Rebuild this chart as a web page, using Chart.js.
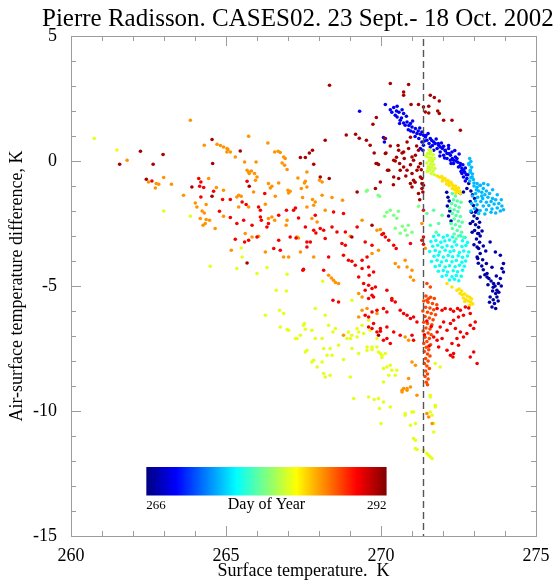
<!DOCTYPE html>
<html>
<head>
<meta charset="utf-8">
<title>Pierre Radisson. CASES02</title>
<script src="https://cdn.jsdelivr.net/npm/chart.js@4.4.1/dist/chart.umd.min.js"></script>
<style>
  html, body { margin: 0; padding: 0; background: #fff; }
  #wrap { width: 555px; height: 582px; }
</style>
</head>
<body>
<div id="wrap"><canvas id="chart" width="555" height="582"></canvas></div>
<script>
// colour bar range (day of year)
const dayMin = 266;
const dayMax = 292;
const xTicks = [260, 265, 270, 275];
const yTicks = [-15, -10, -5, 0, 5];
// sea-water freezing point, K
const freezingLine = 271.35;

// [surface temperature K, air-surface temperature difference K], grouped by day
const day267 = [
  [272.90,-1.20],[272.95,-1.35],[273.02,-1.50],[272.88,-1.62],[272.98,-1.78],[273.05,-1.92],[272.92,-2.05],
  [273.00,-2.20],[273.10,-2.30],[272.96,-2.42],[273.05,-2.55],[273.15,-2.65],[273.02,-2.78],[273.12,-2.90],
  [273.20,-3.00],[273.08,-3.12],[273.18,-3.25],[273.10,-3.44],[273.14,-4.09],[273.42,-4.64],[273.62,-5.05],
  [273.74,-5.44],[273.58,-5.84],[273.69,-3.64],[273.85,-3.77],[273.95,-4.44],[273.79,-4.90],[273.10,-1.97],
  [272.88,-2.50],[273.15,-2.90],[273.15,-3.50],[273.10,-3.84],[273.20,-4.64],[273.42,-4.50],[273.63,-4.90],
  [273.74,-5.17],[273.52,-5.44],[273.52,-3.24],[273.25,-4.20],[273.30,-4.35],[273.48,-4.70],[273.55,-4.80],
  [273.68,-5.00],[273.80,-5.25],[273.70,-5.30],[273.62,-5.55],[273.78,-5.60],[273.66,-5.70],[273.20,-3.70],
  [273.12,-3.90],[273.35,-4.55],[273.45,-4.95],[273.90,-4.30],[273.95,-4.10],[272.12,-1.25],[272.16,-1.45],
  [272.20,-1.60],[272.14,-1.80],[272.22,-2.00],[272.18,-2.20],[272.26,-2.40],[272.83,-0.90],[272.77,-1.10],
  [272.66,-1.24],[272.56,-1.30],[273.05,-2.05],[273.18,-2.45],[273.26,-2.80],[273.30,-3.40],[273.38,-3.60],
  [273.28,-3.95],[273.40,-4.10],[273.58,-4.25],[273.72,-4.60],[273.85,-4.70],[273.88,-5.00],[273.60,-5.20],
  [273.50,-5.65],[273.70,-5.90],[272.94,-2.85],[273.00,-3.35]
];
const day269 = [
  [270.14,2.26],[270.41,2.14],[270.52,2.19],[270.46,1.83],[270.52,1.76],[270.62,1.63],[270.73,1.52],[270.84,1.56],
  [270.78,1.43],[270.95,1.50],[271.00,1.36],[271.11,1.30],[271.05,1.16],[271.16,1.10],[271.27,1.07],[271.32,1.16],
  [271.37,1.03],[270.73,1.90],[270.82,1.79],[271.43,0.96],[271.48,0.83],[271.59,0.90],[271.70,0.76],[271.75,0.70],
  [271.86,0.63],[271.91,0.56],[272.02,0.59],[272.07,0.43],[272.18,0.50],[272.13,0.30],[272.24,0.23],[272.29,0.36],
  [272.40,0.16],[272.45,0.10],[272.34,0.03],[272.56,-0.10],[272.50,-0.24],[272.61,-0.30],[272.66,-0.37],[272.61,-0.50],
  [272.66,-0.64],[272.77,-0.70],[271.32,0.76],[271.37,0.63],[271.27,0.50],[271.35,0.43],[270.14,0.90],[270.11,0.76],
  [271.59,0.56],[271.70,0.43],[271.81,0.50],[271.91,0.36],[272.02,0.23],[272.13,0.10],[272.24,0.03],[272.34,-0.10],
  [269.31,1.99],[270.08,0.94],[270.30,2.05],[270.66,1.72],[270.90,1.42],[271.20,1.20],[271.45,1.02],[271.64,0.82],
  [271.98,0.50],[272.20,0.30],[272.42,0.00],[272.70,-0.45],[272.75,-0.55],[271.85,0.70],[272.08,0.40],[272.55,-0.20],
  [270.35,1.95],[270.58,1.95],[270.60,1.50],[270.88,1.25],[271.02,1.60],[271.25,1.32],[271.10,0.98],[271.40,0.80],
  [271.52,1.10],[271.66,0.62],[271.78,0.88],[271.95,0.72],[272.05,0.12],[272.18,0.62],[272.30,0.10],[272.38,0.42],
  [272.48,-0.05],[272.52,0.28],[272.64,-0.15],[272.72,-0.28],[272.58,-0.42],[272.80,-0.55],[272.72,-0.80],[271.22,0.90],
  [270.96,1.20],[270.50,2.00],[270.68,2.05],[271.55,0.70],[271.90,0.20],[272.26,-0.10]
];
const day274 = [
  [272.83,-0.10],[272.88,-0.37],[272.94,-0.64],[272.86,0.10],[272.90,-0.02],[272.84,-0.15],[272.92,-0.25],
  [272.88,-0.45],[272.95,-0.52],[272.90,-0.66],[272.98,-0.74],[272.86,-0.80],[273.00,-0.88],[273.10,-0.90],
  [273.20,-0.97],[273.31,-0.90],[273.00,-1.00],[273.10,-1.05],[273.20,-0.98],[273.30,-1.10],[273.15,-1.20],
  [273.25,-1.25],[273.40,-1.20],[273.50,-1.30],[273.35,-1.35],[273.05,-1.30],[272.95,-1.40],[273.12,-1.45],
  [273.28,-1.50],[273.45,-1.45],[273.60,-1.50],[273.70,-1.55],[273.55,-1.62],[273.40,-1.65],[273.22,-1.62],
  [273.05,-1.60],[272.92,-1.70],[273.10,-1.75],[273.30,-1.80],[273.48,-1.78],[273.65,-1.72],[273.80,-1.70],
  [273.90,-1.80],[273.75,-1.88],[273.58,-1.92],[273.40,-1.95],[273.20,-1.98],[273.02,-1.90],[272.90,-2.00],
  [273.15,-2.10],[273.35,-2.12],[273.55,-2.05],[273.85,-2.00],[273.95,-1.95],[273.70,-2.08],[273.45,-0.95],
  [273.60,-1.15],[273.75,-1.35],[273.88,-1.55],[273.25,-1.40],[273.08,-1.15]
];
const day276 = [
  [271.70,-3.02],[271.86,-2.96],[272.01,-3.05],[272.14,-2.98],[272.31,-3.04],[272.56,-2.99],[272.71,-3.06],
  [271.61,-3.22],[271.77,-3.18],[271.93,-3.25],[272.06,-3.20],[272.21,-3.16],[272.37,-3.23],[272.63,-3.19],
  [272.79,-3.26],[271.67,-3.41],[271.83,-3.37],[271.97,-3.45],[272.13,-3.39],[272.29,-3.43],[272.44,-3.36],
  [272.61,-3.42],[272.74,-3.38],[271.57,-3.62],[271.75,-3.58],[271.89,-3.64],[272.07,-3.57],[272.23,-3.63],
  [272.35,-3.59],[272.53,-3.66],[272.67,-3.60],[272.83,-3.64],[271.71,-3.81],[271.85,-3.77],[272.01,-3.84],
  [272.17,-3.78],[272.31,-3.83],[272.49,-3.79],[272.63,-3.85],[272.79,-3.80],[271.63,-4.02],[271.81,-3.97],
  [271.95,-4.04],[272.11,-3.99],[272.29,-4.03],[272.43,-3.98],[272.61,-4.05],[272.73,-4.00],[271.75,-4.22],
  [271.89,-4.18],[272.07,-4.24],[272.21,-4.19],[272.39,-4.23],[272.53,-4.17],[272.69,-4.21],[271.85,-4.41],
  [272.01,-4.38],[272.15,-4.44],[272.33,-4.39],[272.47,-4.43],[272.63,-4.37],[271.97,-4.62],[272.11,-4.57],
  [272.29,-4.63],[272.43,-4.58],[272.59,-4.61],[272.21,-4.76],[272.37,-4.73],[272.51,-4.79]
];
const day278 = [
  [272.30,-1.30],[272.40,-1.40],[272.34,-1.55],[272.46,-1.60],[272.28,-1.70],[272.40,-1.78],[272.52,-1.85],
  [272.36,-1.95],[272.48,-2.02],[272.30,-2.10],[272.42,-2.18],[272.56,-2.22],[272.36,-2.32],[272.50,-2.40],
  [272.62,-2.45],[272.40,-2.55],[272.54,-2.62],[272.30,-2.70],[272.46,-2.78],[272.60,-2.85],[272.36,-2.92],
  [272.50,-3.00],[272.66,-3.05],[272.42,-3.12],[272.26,-2.50],[272.22,-1.90],[272.58,-1.65],[271.48,-2.10],
  [271.70,-1.97],[271.86,-2.50],[271.97,-2.17],[271.59,-2.57],[271.78,-2.85]
];
const day279 = [
  [269.53,-1.21],[269.95,-1.41],[270.12,-2.21],[270.19,-2.05],[270.30,-1.97],[270.41,-2.17],[270.51,-2.29],
  [270.56,-2.01],[270.69,-2.61],[270.78,-2.77],[270.88,-2.57],[271.00,-2.85],[270.84,-2.97],[270.62,-2.89],
  [270.46,-2.69],[269.91,-1.37],[269.56,-1.17],[271.21,-1.81]
];
const day281 = [
  [271.55,0.45],[271.62,0.40],[271.50,0.30],[271.58,0.28],[271.68,0.25],[271.52,0.15],[271.62,0.12],[271.72,0.10],
  [271.56,0.02],[271.66,-0.02],[271.48,-0.08],[271.60,-0.12],[271.70,-0.15],[271.54,-0.22],[271.64,-0.26],
  [271.74,-0.30],[271.58,-0.36],[271.68,-0.40],[271.50,-0.42],[271.62,-0.50],[271.72,-0.55],[271.58,0.35],
  [271.66,0.05],[271.52,-0.30],[271.45,0.20]
];
const day282 = [
  [262.99,-2.00],[263.85,-2.21],[260.75,0.90],[265.49,-3.48],[265.52,-3.84],[265.35,-4.30],[266.32,-4.26],
  [266.00,-4.50],[264.49,-4.21],[266.97,-4.53],[266.62,-5.17],[266.95,-5.20],[266.27,-6.17],[266.73,-5.97],
  [266.86,-6.10],[266.75,-6.64],[266.97,-6.74],[267.29,-7.10],[267.53,-6.50],[267.77,-6.77],[267.61,-7.57],
  [267.77,-8.04],[268.10,-7.10],[268.36,-7.50],[268.15,-8.50],[268.36,-8.57],[268.20,-8.64],[267.94,-8.24],
  [268.79,-7.94],[269.01,-8.64],[269.12,-9.50],[269.60,-9.44],[269.78,-9.54],[269.95,-9.90],[270.00,-10.50],
  [270.30,-9.84],[270.78,-10.17],[271.05,-10.04],[270.95,-10.57],[271.11,-11.17],[271.16,-11.54],[271.48,-11.70],
  [271.59,-11.84],[271.70,-10.84],[271.75,-9.84],[271.59,-9.44],[269.98,-7.70],[270.03,-7.86],[270.19,-8.24],
  [270.35,-8.37],[270.46,-8.57],[270.25,-8.57],[270.08,-8.84],[269.55,-7.44],[269.71,-7.54],[269.01,-7.10],
  [269.23,-7.04],[269.44,-6.90],[269.65,-6.77],[269.39,-6.57],[269.60,-6.37],[269.06,-5.57],[268.45,-6.84],
  [268.53,-6.70],[268.15,-7.50],[268.26,-7.77],[268.12,-4.81],[267.88,-5.90],[268.20,-6.17],[268.31,-6.57],
  [267.50,-6.57],[267.56,-6.73],[267.02,-6.77],[268.95,-6.84],[269.06,-6.97],[268.90,-7.10],[269.23,-6.70],
  [269.28,-6.84],[267.88,-7.10],[267.40,-6.97],[267.24,-7.10],[267.56,-7.64],[267.83,-7.97],[268.10,-8.04],
  [268.42,-7.77],[268.63,-7.37],[269.06,-7.50],[269.28,-7.70],[269.55,-7.57],[269.71,-7.44],[269.87,-7.44],
  [269.92,-7.64],[270.03,-7.77],[269.87,-7.10],[270.14,-7.70],[270.30,-8.17],[270.08,-8.30],[270.51,-8.37],
  [269.92,-9.50],[270.08,-9.64],[270.78,-10.10],[271.00,-10.04],[271.11,-10.50],[271.05,-11.10],[271.37,-11.57],
  [271.54,-11.77],[271.65,-11.90],[271.59,-10.04],[271.65,-10.17],[271.70,-10.50],[271.59,-9.37],[271.75,-9.77],
  [271.11,-11.50],[271.75,-8.10],[271.91,-8.24],[261.48,0.44]
];
const day283 = [
  [271.82,-0.60],[271.90,-0.65],[271.96,-0.62],[272.00,-0.72],[272.06,-0.70],[272.10,-0.80],[272.16,-0.78],
  [272.20,-0.88],[272.26,-0.85],[272.30,-0.95],[272.34,-1.02],[272.40,-1.00],[272.44,-1.10],[272.50,-1.08],
  [272.38,-1.15],[272.46,-1.22],[272.54,-1.20],[272.30,-1.10],[272.20,-0.98],[272.12,-0.92],[271.98,-0.80],
  [272.56,-1.30],[272.42,-1.28],[272.55,-5.30],[272.62,-5.35],[272.70,-5.32],[272.78,-5.40],[272.86,-5.45],
  [272.92,-5.52],[272.66,-5.48],[272.74,-5.55],[272.82,-5.60],[272.90,-5.65],[272.96,-5.72],[272.60,-5.20],
  [272.52,-5.12],[272.70,-5.62],[272.86,-5.78],[272.13,-4.90],[272.29,-5.04],[272.45,-5.17]
];
const day285 = [
  [263.85,1.63],[261.81,0.03],[264.30,0.63],[264.71,0.67],[264.82,0.62],[264.92,0.56],[265.03,0.50],[265.03,0.36],
  [262.50,-0.84],[262.75,-0.90],[262.83,-0.93],[262.72,-1.08],[262.99,-0.66],[263.24,-0.93],[263.63,-1.37],
  [264.44,-0.70],[264.69,-1.06],[264.92,-1.17],[264.36,-1.74],[264.01,-1.68],[264.06,-1.84],[264.23,-2.00],
  [264.30,-2.08],[264.17,-2.30],[264.36,-2.34],[264.47,-2.37],[264.33,-2.50],[264.26,-2.57],[264.92,-2.21],
  [264.65,-2.70],[265.73,0.99],[266.35,0.72],[265.06,0.46],[265.14,0.36],[265.30,0.16],[266.57,0.36],
  [266.68,0.39],[266.75,0.34],[266.86,0.16],[266.91,0.10],[265.60,-0.04],[265.97,-0.04],[266.81,-0.08],
  [266.89,-0.17],[265.68,-0.37],[265.73,-0.44],[265.82,-0.40],[265.75,-0.50],[265.92,-0.50],[266.00,-0.64],
  [265.95,-0.77],[266.97,-0.34],[267.61,-0.44],[267.32,-0.68],[267.56,-0.81],[267.53,-0.88],[268.02,-0.77],
  [268.10,-0.84],[266.37,-0.90],[266.48,-1.01],[266.43,-1.08],[266.70,-0.88],[267.00,-1.17],[267.07,-1.21],
  [267.02,-1.28],[267.43,-1.10],[267.61,-1.04],[265.41,-1.37],[265.49,-1.41],[265.35,-1.44],[265.89,-1.24],
  [266.59,-1.41],[265.41,-1.84],[265.73,-1.84],[266.27,-1.73],[267.47,-1.46],[267.79,-1.54],[267.88,-1.64],
  [267.83,-1.77],[268.10,-1.37],[268.42,-1.46],[268.76,-1.57],[267.61,-1.84],[267.77,-2.30],[267.94,-2.44],
  [268.20,-1.97],[266.37,-2.30],[266.48,-2.24],[266.57,-2.37],[265.62,-2.90],[265.84,-3.04],[266.05,-3.01],
  [266.97,-2.37],[266.94,-2.57],[267.29,-3.04],[267.34,-3.08],[269.01,-3.01],[269.39,-2.37],[269.87,-2.77],
  [269.98,-2.74],[265.17,-3.57],[266.27,-3.64],[266.86,-3.84],[267.02,-3.84],[267.40,-3.64],[267.83,-3.84],
  [268.31,-4.57],[268.40,-4.68],[268.47,-4.77],[268.53,-4.86],[268.63,-4.90],[269.71,-3.70],[269.92,-3.57],
  [269.28,-5.30],[269.39,-5.44],[269.39,-5.97],[269.55,-5.90],[269.87,-6.10],[269.28,-6.24],[268.79,-6.97],
  [270.68,-9.17],[270.84,-9.10],[271.16,-9.37],[271.48,-10.10],[271.54,-10.24],[271.65,-10.50],[270.78,-7.04],
  [270.89,-7.17],[271.00,-8.04],[271.11,-8.17],[270.89,-8.70],[270.73,-9.10],[270.68,-9.24],[270.84,-9.17],
  [270.95,-9.04],[270.46,-4.10],[270.57,-4.24],[270.78,-3.97],[270.84,-4.24],[271.00,-4.37],[270.95,-4.64],
  [271.05,-4.77],[271.32,-2.50],[271.43,-3.49]
];
const day287 = [
  [271.45,-5.40],[271.60,-5.45],[271.72,-5.50],[271.38,-5.60],[271.52,-5.65],[271.66,-5.70],[271.80,-5.75],
  [271.44,-5.85],[271.58,-5.88],[271.70,-5.95],[271.35,-6.00],[271.50,-6.05],[271.62,-6.10],[271.76,-6.15],
  [271.42,-6.22],[271.56,-6.28],[271.68,-6.35],[271.38,-6.45],[271.50,-6.50],[271.64,-6.55],[271.45,-6.68],
  [271.58,-6.72],[271.36,-6.80],[271.52,-6.88],[271.62,-6.95],[271.42,-7.05],[271.56,-7.10],[271.48,-7.22],
  [271.38,-7.30],[271.60,-7.35],[271.46,-7.45],[271.54,-7.55],[271.40,-7.62],[271.50,-7.72],[271.58,-7.80],
  [271.44,-7.90],[271.52,-8.00],[271.40,-8.10],[271.48,-8.20],[271.56,-8.30],[271.44,-8.40],[271.50,-8.52],
  [271.42,-8.62],[271.52,-8.72],[271.46,-8.85],[271.50,-8.95],[271.48,-4.90],[271.59,-5.04],[271.54,-5.50],
  [271.48,-5.57]
];
const day289 = [
  [262.61,-0.80],[264.12,-0.70],[264.19,-0.84],[264.15,-1.01],[264.28,-1.06],[264.60,-1.21],[264.19,-1.44],
  [264.89,-1.54],[264.79,-2.01],[265.68,-0.81],[266.25,-1.30],[265.14,-1.54],[265.52,-1.64],[265.65,-1.74],
  [266.05,-1.84],[266.11,-1.97],[266.95,-1.97],[267.24,-1.88],[267.18,-1.97],[267.34,-2.28],[268.47,-2.04],
  [268.79,-2.10],[267.88,-2.17],[266.70,-2.17],[266.11,-2.24],[266.14,-2.37],[265.57,-2.37],[265.84,-2.57],
  [265.14,-2.26],[265.35,-2.50],[266.37,-2.50],[266.32,-2.64],[267.56,-2.64],[267.83,-2.77],[267.90,-2.88],
  [268.04,-2.70],[268.15,-2.77],[268.42,-2.64],[268.58,-2.84],[268.85,-2.84],[269.23,-2.64],[270.03,-2.94],
  [265.30,-3.13],[265.60,-3.24],[265.73,-3.17],[266.00,-3.04],[266.54,-3.50],[266.70,-3.17],[266.75,-3.57],
  [267.07,-3.04],[267.26,-3.08],[267.50,-4.33],[267.61,-3.44],[267.61,-3.24],[267.72,-3.24],[268.20,-3.10],
  [268.31,-3.84],[268.15,-4.37],[268.74,-3.30],[268.85,-3.37],[268.79,-3.77],[268.95,-3.97],[269.06,-4.01],
  [269.17,-4.17],[269.28,-4.64],[269.39,-4.30],[269.60,-4.24],[269.76,-4.44],[269.62,-4.57],[269.39,-3.97],
  [269.55,-3.84],[269.49,-3.24],[269.71,-3.37],[269.44,-4.90],[269.60,-4.97],[269.71,-5.10],[269.82,-5.04],
  [269.49,-5.17],[269.71,-5.37],[269.76,-5.44],[269.60,-5.50],[268.45,-5.57],[268.63,-5.64],[269.49,-6.17],
  [269.60,-6.24],[269.71,-6.04],[269.60,-6.64],[269.71,-6.70],[267.48,-4.37],[270.35,-5.57],[270.46,-5.64],
  [269.87,-5.97],[270.08,-5.90],[270.19,-6.04],[270.62,-5.97],[270.73,-6.10],[270.84,-6.17],[270.95,-6.30],
  [271.05,-6.24],[271.16,-6.44],[269.76,-6.50],[269.98,-6.70],[269.87,-6.84],[270.19,-6.64],[270.41,-6.84],
  [270.62,-6.97],[271.00,-6.97],[271.05,-7.17],[270.08,-7.17],[270.19,-7.10],[270.30,-7.30],[269.98,-6.81],
  [271.81,-5.90],[271.97,-5.97],[272.07,-5.90],[272.24,-5.93],[272.34,-6.01],[272.47,-5.90],[272.56,-5.97],
  [272.72,-5.84],[272.83,-5.88],[272.88,-6.10],[272.66,-6.17],[272.50,-6.24],[272.34,-6.37],[272.24,-6.50],
  [272.02,-6.44],[271.91,-6.64],[271.81,-6.84],[272.13,-6.77],[272.40,-6.70],[272.56,-6.84],[272.66,-7.04],
  [272.77,-6.90],[272.88,-6.57],[273.04,-6.44],[272.99,-6.70],[272.45,-7.10],[272.29,-7.30],[272.50,-7.37],
  [272.34,-7.70],[272.24,-7.77],[272.32,-7.84],[272.88,-7.84],[273.10,-8.10],[272.99,-7.64],[272.13,-7.57],
  [271.97,-7.10],[271.81,-7.17],[271.70,-7.04],[271.86,-7.44],[271.48,-6.40],[271.62,-6.62],[271.40,-6.95],
  [271.55,-7.40],[271.37,-1.97],[271.37,-3.04],[271.32,-3.17],[271.37,-3.33],[270.19,-5.17],[270.35,-5.50],
  [270.08,-2.90],[270.14,-3.04],[270.25,-3.17],[270.41,-3.37],[270.49,-3.50],[270.95,-3.30]
];
const day291 = [
  [270.30,3.10],[270.89,3.06],[270.73,2.76],[270.73,2.63],[271.59,2.63],[271.72,2.54],[271.88,2.40],[270.97,2.26],
  [271.21,2.26],[271.37,2.16],[271.54,2.19],[271.43,1.96],[271.54,1.92],[271.83,2.00],[271.88,1.90],[272.02,1.63],
  [272.29,1.63],[272.56,1.23],[269.85,1.74],[269.74,1.47],[270.12,0.90],[269.78,0.32],[269.87,-0.10],[270.14,0.30],
  [270.41,0.03],[270.57,0.43],[270.84,0.76],[270.73,0.36],[270.89,0.50],[271.00,0.16],[271.11,0.23],[271.05,0.03],
  [270.60,-0.10],[270.25,-0.37],[270.57,-0.70],[270.84,-0.37],[271.00,-0.50],[271.21,-0.24],[271.32,-0.70],
  [271.32,-0.90],[271.32,-1.10],[271.37,-0.97],[271.00,-1.04],[270.95,-0.90],[271.21,-1.30],[270.41,-0.64],
  [269.98,-0.84],[269.82,-1.10],[269.65,0.63],[269.53,0.83],[270.16,0.32],[270.46,0.00],[270.21,-0.37],
  [270.68,0.32],[271.27,-0.10],[271.21,0.43],[270.73,-0.24],[270.62,-0.37],[271.27,-0.64],[271.35,-1.24],
  [271.05,-0.77],[271.16,-0.37],[268.20,0.83],[268.88,1.04],[269.18,1.07],[269.30,0.91],[269.84,-0.10],
  [269.92,-0.14],[267.40,0.14],[267.56,0.14],[267.69,0.32],[267.79,0.43],[267.83,-0.13],[265.46,0.40],
  [268.04,-0.64],[268.33,-0.70],[265.75,-1.01],[269.23,-1.24],[269.71,-2.57],[269.06,-3.04],[262.24,0.39],
  [262.97,0.26],[261.57,-0.13],[262.65,-0.13],[264.55,0.86],[264.57,-0.10],[262.43,-0.73],[263.90,-1.04],
  [264.55,-1.41],[268.34,3.03],[265.68,-4.08],[269.92,-6.97],[270.30,0.60],[270.50,0.15],[270.75,0.10],
  [270.95,-0.15],[271.10,-0.85],[271.25,-1.55],[271.30,-0.35],[270.80,-0.60],[270.40,-0.95],[271.15,0.60],
  [270.95,0.95],[270.55,0.62]
];

// drawn newest day on top
const dayGroups = [
  { day: 291, points: day291 }, { day: 289, points: day289 }, { day: 287, points: day287 },
  { day: 285, points: day285 }, { day: 283, points: day283 }, { day: 281.6, points: day282 },
  { day: 281, points: day281 }, { day: 279, points: day279 }, { day: 278, points: day278 },
  { day: 276, points: day276 }, { day: 274, points: day274 }, { day: 269, points: day269 },
  { day: 267, points: day267 }
];

const serif = "'Liberation Serif', 'DejaVu Serif', serif";

// IDL-style "jet" colour table
function jet(t) {
  const c = v => Math.round(255 * Math.max(0, Math.min(1, v)));
  return 'rgb(' + c(1.5 - Math.abs(4 * t - 3)) + ',' + c(1.5 - Math.abs(4 * t - 2)) + ',' + c(1.5 - Math.abs(4 * t - 1)) + ')';
}
function dayColor(d) {
  return jet((d - dayMin) / (dayMax - dayMin));
}

// frame, inward ticks on all four sides, freezing line, colour bar, title
const decorPlugin = {
  id: 'decor',
  afterDatasetsDraw(chart) {
    const { ctx, chartArea: a, scales: { x, y } } = chart;
    ctx.save();

    // dashed freezing line
    const fx = Math.round(x.getPixelForValue(freezingLine)) + 0.5;
    ctx.strokeStyle = '#555';
    ctx.lineWidth = 1.4;
    ctx.setLineDash([7, 4]);
    ctx.beginPath();
    ctx.moveTo(fx, a.top + 3);
    ctx.lineTo(fx, a.bottom);
    ctx.stroke();
    ctx.setLineDash([]);

    // frame and ticks
    ctx.strokeStyle = '#9c9c9c';
    ctx.lineWidth = 1;
    ctx.strokeRect(Math.round(a.left) + 0.5, Math.round(a.top) + 0.5, Math.round(a.width), Math.round(a.height));
    ctx.beginPath();
    for (let v = xTicks[0]; v <= xTicks[xTicks.length - 1]; v++) {
      const px = Math.round(x.getPixelForValue(v)) + 0.5;
      const len = v % 5 === 0 ? 10 : 5;
      ctx.moveTo(px, a.bottom); ctx.lineTo(px, a.bottom - len);
      ctx.moveTo(px, a.top); ctx.lineTo(px, a.top + len);
    }
    for (let v = yTicks[0]; v <= yTicks[yTicks.length - 1]; v++) {
      const py = Math.round(y.getPixelForValue(v)) + 0.5;
      const len = v % 5 === 0 ? 10 : 5;
      ctx.moveTo(a.left, py); ctx.lineTo(a.left + len, py);
      ctx.moveTo(a.right, py); ctx.lineTo(a.right - len, py);
    }
    ctx.stroke();

    // colour bar
    const bx0 = x.getPixelForValue(262.43), bx1 = x.getPixelForValue(270.18);
    const by0 = y.getPixelForValue(-12.24), by1 = y.getPixelForValue(-13.38);
    const grad = ctx.createLinearGradient(bx0, 0, bx1, 0);
    for (let i = 0; i <= 32; i++) grad.addColorStop(i / 32, jet(i / 32));
    ctx.fillStyle = grad;
    ctx.fillRect(bx0, by0, bx1 - bx0, by1 - by0);
    ctx.fillStyle = '#000';
    ctx.textBaseline = 'alphabetic';
    ctx.font = '13px ' + serif;
    ctx.textAlign = 'left';
    ctx.fillText(String(dayMin), bx0, by1 + 13);
    ctx.textAlign = 'right';
    ctx.fillText(String(dayMax), bx1, by1 + 13);
    ctx.font = '16px ' + serif;
    ctx.textAlign = 'center';
    ctx.fillText('Day of Year', (bx0 + bx1) / 2, by1 + 13);

    // title
    ctx.font = '25px ' + serif;
    ctx.textAlign = 'left';
    ctx.fillText('Pierre Radisson. CASES02. 23 Sept.- 18 Oct. 2002', 42, 26);
    ctx.restore();
  }
};

new Chart(document.getElementById('chart'), {
  type: 'scatter',
  data: {
    datasets: dayGroups.map(g => ({
      label: 'Day ' + g.day,
      data: g.points.map(p => ({ x: p[0], y: p[1] })),
      backgroundColor: dayColor(g.day),
      pointRadius: 1.8,
      pointBorderWidth: 0,
      pointHoverRadius: 1.8
    }))
  },
  options: {
    responsive: false,
    animation: false,
    devicePixelRatio: 1,
    layout: { padding: { top: 36, right: 19, left: 0, bottom: 0 } },
    plugins: {
      legend: { display: false },
      tooltip: { enabled: false }
    },
    scales: {
      x: {
        type: 'linear',
        min: xTicks[0],
        max: xTicks[xTicks.length - 1],
        grid: { display: false },
        border: { display: false },
        ticks: {
          stepSize: 5,
          padding: 1,
          color: '#000',
          maxRotation: 0,
          font: { family: serif, size: 18 },
          callback: v => String(v)
        },
        title: {
          display: true,
          text: 'Surface temperature.  K',
          color: '#000',
          font: { family: serif, size: 18 },
          padding: { top: 0, bottom: 0 }
        },
        afterFit: s => { s.height = 46; }
      },
      y: {
        type: 'linear',
        min: yTicks[0],
        max: yTicks[yTicks.length - 1],
        grid: { display: false },
        border: { display: false },
        ticks: {
          stepSize: 5,
          padding: 6,
          color: '#000',
          font: { family: serif, size: 18 },
          callback: v => String(v)
        },
        title: {
          display: true,
          text: 'Air-surface temperature difference, K',
          color: '#000',
          font: { family: serif, size: 18 },
          padding: { top: 6, bottom: 0 }
        },
        afterFit: s => { s.width = 71; }
      }
    }
  },
  plugins: [decorPlugin]
});
</script>
</body>
</html>
